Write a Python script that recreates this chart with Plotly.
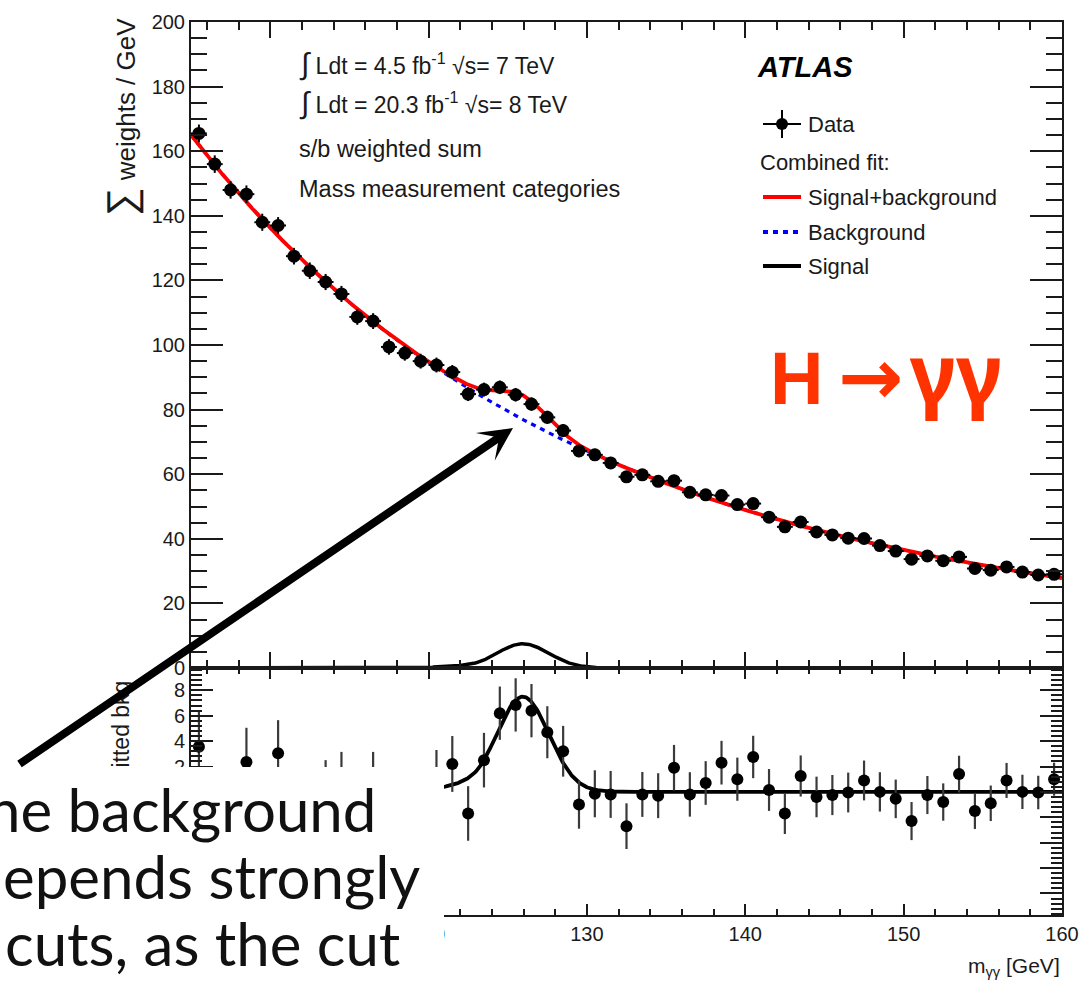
import numpy as np
import plotly.graph_objects as go

# ---- binned diphoton mass spectrum (1 GeV bins, 105-160 GeV) ----
MASS_LO, MASS_HI = 105.0, 160.0
MASS = np.arange(105.5, 160.0, 1.0)

WEIGHTS = [165.5, 156.0, 148.0, 146.7, 138.0, 137.0, 127.5, 123.0, 119.5, 115.8,
           108.7, 107.4, 99.4, 97.5, 95.0, 93.8, 91.6, 84.8, 86.2, 86.9,
           84.6, 81.7, 77.6, 73.5, 67.2, 66.0, 63.5, 59.2, 59.8, 57.8,
           58.0, 54.4, 53.6, 53.4, 50.6, 50.9, 46.7, 43.7, 45.2, 42.1,
           41.2, 40.2, 40.1, 37.9, 36.2, 33.7, 34.7, 33.2, 34.4, 30.8,
           30.3, 31.3, 29.7, 28.8, 29.0]

RESIDUALS = [3.55, -1.0, -2.4, 2.35, -1.3, 3.05, -1.1, -0.9, 0.0, 0.65,
             -1.2, 0.7, -2.2, -1.5, -0.9, 1.0, 2.2, -1.7, 2.5, 6.2,
             6.85, 6.4, 4.7, 3.2, -1.0, -0.15, -0.2, -2.7, -0.2, -0.3,
             1.9, -0.2, 0.7, 2.3, 1.0, 2.75, 0.15, -1.7, 1.25, -0.4,
             -0.25, -0.05, 0.9, 0.0, -0.55, -2.3, -0.25, -0.8, 1.4, -1.5,
             -0.9, 0.9, 0.0, -0.05, 1.0]

ERRORS = [2.75, 2.72, 2.7, 2.7, 2.65, 2.6, 2.58, 2.55, 2.5, 2.5,
          2.45, 2.45, 2.4, 2.35, 2.3, 2.3, 2.2, 2.15, 2.15, 2.1,
          2.1, 2.1, 2.05, 2.0, 1.9, 1.85, 1.85, 1.8, 1.77, 1.77,
          1.8, 1.75, 1.72, 1.72, 1.7, 1.67, 1.65, 1.62, 1.62, 1.6,
          1.58, 1.57, 1.57, 1.55, 1.52, 1.5, 1.5, 1.47, 1.45, 1.42,
          1.4, 1.38, 1.35, 1.32, 1.3]

# background fit, sampled along the fitted curve
BKG_KNOT_MASS = [105, 110, 115, 120, 125, 130, 135, 140, 145, 150, 155, 160]
BKG_KNOT_VAL = [165.0, 137.5, 112.5, 94.5, 78.0, 66.5, 58.5, 50.8, 41.5, 35.6, 31.4, 28.3]

# signal: Crystal Ball line shape
M_H, SIGMA, ALPHA, N_CB, PEAK = 125.95, 1.65, 1.5, 4.0, 7.5

Y_TICKS_TOP = list(range(0, 201, 20))
X_TICKS = [110, 120, 130, 140, 150, 160]
X_TICK_TEXT = ["", "120", "130", "140", "150", "160"]
Y_TICKS_LOW = [-8, -6, -4, -2, 0, 2, 4, 6, 8]
Y_TICK_TEXT_LOW = ["", "", "", "", "", "2", "4", "6", "8"]

FONT = "Liberation Sans"
INK = "#1a1a1a"

# smooth exp-polynomial background through the sampled fit values
_bkg_coef = np.polyfit(np.array(BKG_KNOT_MASS) - 130.0, np.log(BKG_KNOT_VAL), 3)


def background(m):
    return np.exp(np.polyval(_bkg_coef, m - 130.0))


def signal(m):
    t = (m - M_H) / SIGMA
    a = (N_CB / ALPHA) ** N_CB * np.exp(-0.5 * ALPHA ** 2)
    b = N_CB / ALPHA - ALPHA
    core = np.exp(-0.5 * t ** 2)
    tail = a / np.power(np.clip(b - t, 1e-9, None), N_CB)
    return PEAK * np.where(t > -ALPHA, core, tail)


grid = np.linspace(MASS_LO, MASS_HI, 1101)
bkg = background(grid)
sig = signal(grid)

# pixel helpers for page-level decorations
L, R, T, B = 191, 18, 22, 67
W, H = 1080, 982
PW, PH = W - L - R, H - T - B


def px(x):
    return (x - L) / PW


def py(y):
    return (H - B - y) / PH


split = py(668)

fig = go.Figure()

# ---- upper panel ----
fig.add_trace(go.Scatter(x=grid, y=bkg, mode="lines",
                         line=dict(color="#0000ff", width=3.2, dash="5px,5px"),
                         xaxis="x", yaxis="y", hoverinfo="skip"))
fig.add_trace(go.Scatter(x=grid, y=bkg + sig, mode="lines",
                         line=dict(color="#ff0000", width=3.8),
                         xaxis="x", yaxis="y", hoverinfo="skip"))
fig.add_trace(go.Scatter(x=grid, y=sig, mode="lines",
                         line=dict(color="#000000", width=3.5),
                         xaxis="x", yaxis="y", hoverinfo="skip"))
fig.add_trace(go.Scatter(x=MASS, y=WEIGHTS, mode="markers",
                         marker=dict(color="black", size=13),
                         error_y=dict(type="data", array=ERRORS, color="black",
                                      thickness=2, width=0),
                         error_x=dict(type="constant", value=0.5, color="black",
                                      thickness=2, width=0),
                         xaxis="x", yaxis="y"))

# ---- lower panel: data minus fitted background ----
fig.add_trace(go.Scatter(x=grid, y=sig, mode="lines",
                         line=dict(color="#000000", width=3.8),
                         xaxis="x2", yaxis="y2", hoverinfo="skip"))
fig.add_trace(go.Scatter(x=MASS, y=RESIDUALS, mode="markers",
                         marker=dict(color="black", size=12),
                         error_y=dict(type="data", array=ERRORS, color="#3a3a3a",
                                      thickness=2.2, width=0),
                         xaxis="x2", yaxis="y2"))

tickfont = dict(family=FONT, size=20, color=INK)
common_axis = dict(showline=True, linecolor=INK, linewidth=2, mirror="ticks",
                   ticks="inside", tickcolor=INK, showgrid=False, zeroline=False,
                   tickfont=tickfont, automargin=False)

fig.update_layout(
    width=W, height=H,
    margin=dict(l=L, r=R, t=T, b=B, pad=0, autoexpand=False),
    paper_bgcolor="white", plot_bgcolor="white",
    showlegend=False,
    xaxis=dict(common_axis, domain=[0, 1], anchor="y", range=[MASS_LO, MASS_HI],
               tickvals=X_TICKS, showticklabels=False, ticklen=16, tickwidth=2,
               minor=dict(dtick=2, tick0=100, ticklen=8, tickwidth=1.5,
                          tickcolor=INK, ticks="inside")),
    yaxis=dict(common_axis, domain=[split, 1], anchor="x", range=[0, 200],
               tickvals=Y_TICKS_TOP, ticklen=32, tickwidth=2,
               minor=dict(dtick=5, tick0=0, ticklen=16, tickwidth=1.5,
                          tickcolor=INK, ticks="inside")),
    xaxis2=dict(common_axis, domain=[0, 1], anchor="y2", range=[MASS_LO, MASS_HI],
                matches="x", tickvals=X_TICKS, ticktext=X_TICK_TEXT,
                ticklen=11, tickwidth=2,
                minor=dict(dtick=2, tick0=100, ticklen=6, tickwidth=1.5,
                           tickcolor=INK, ticks="inside")),
    yaxis2=dict(common_axis, domain=[0, split], anchor="x2", range=[-9.7, 9.76],
                tickvals=Y_TICKS_LOW, ticktext=Y_TICK_TEXT_LOW,
                ticklen=22, tickwidth=2,
                minor=dict(dtick=0.4, tick0=0, ticklen=11, tickwidth=1.5,
                           tickcolor=INK, ticks="inside")),
)

# ---- legend keys ----
shapes = []
lx0, lx1, lxc = px(763), px(801), px(782)
shapes.append(dict(type="line", xref="paper", yref="paper", x0=lx0, x1=lx1,
                   y0=py(124), y1=py(124), line=dict(color="black", width=2)))
shapes.append(dict(type="line", xref="paper", yref="paper", x0=lxc, x1=lxc,
                   y0=py(110), y1=py(138), line=dict(color="black", width=2)))
shapes.append(dict(type="circle", xref="paper", yref="paper",
                   x0=px(776), x1=px(788), y0=py(118), y1=py(130),
                   fillcolor="black", line=dict(color="black", width=0)))
for yy, col, dash in [(197, "#ff0000", "solid"), (232, "#0000ff", "5px,5px"),
                      (266, "#000000", "solid")]:
    shapes.append(dict(type="line", xref="paper", yref="paper", x0=lx0, x1=lx1,
                       y0=py(yy), y1=py(yy), line=dict(color=col, width=3.8, dash=dash)))
fig.update_layout(shapes=shapes)

ann = []


def text(x, y, s, size, xanchor="left", yanchor="middle", color=INK, family=FONT, **kw):
    ann.append(dict(x=px(x), y=py(y), xref="paper", yref="paper", text=s,
                    showarrow=False, xanchor=xanchor, yanchor=yanchor,
                    font=dict(family=family, size=size, color=color), **kw))


text(297, 64, "<span style='font-size:30px'>∫</span> Ldt = 4.5 fb<sup>-1</sup> √s= 7 TeV", 23)
text(297, 103, "<span style='font-size:30px'>∫</span> Ldt = 20.3 fb<sup>-1</sup> √s= 8 TeV", 23)
text(297, 149, "s/b weighted sum", 23.5)
text(297, 189, "Mass measurement categories", 23.5)
text(755, 67, "<b><i>ATLAS</i></b>", 29, color="black")
text(806, 124, "Data", 22)
text(758, 162, "Combined fit:", 22)
text(806, 197, "Signal+background", 22)
text(806, 232, "Background", 22)
text(806, 266, "Signal", 22)
text(768, 372,
     "<b>H\u2009<span style='font-family:DejaVu Sans;font-size:78px'>→</span>"
     "\u200a<span style='font-family:Noto Sans;font-size:82px'>γγ</span></b>",
     74, color="#ff3300")

# axis titles
text(121, 117, "<span style='font-size:40px'>∑</span> weights / GeV", 26,
     xanchor="center", textangle=-90)
text(117, 679, "<span style='font-size:34px'>∑</span> weights - fitted bkg", 23,
     xanchor="center", yanchor="top", textangle=-90)
text(1062, 967, "m<sub>γγ</sub> [GeV]", 21, xanchor="right")

# white caption panel over the lower-left corner
ann.append(dict(x=px(444), y=py(767), xref="paper", yref="paper", text=" ",
                showarrow=False, xanchor="right", yanchor="top",
                width=700, height=260, bgcolor="white", borderpad=0, borderwidth=0))
CAPTION = ["he background", "epends strongly", "cuts, as the cut"]
CAPTION_RIGHT = [378, 422, 402]
CAPTION_Y = [809, 876, 943]
for s, xr, yc in zip(CAPTION, CAPTION_RIGHT, CAPTION_Y):
    text(xr, yc, s, 60, xanchor="right", color="#111111", family="Lato")

# pointer arrow towards the signal excess
ann.append(dict(x=px(513), y=py(428), xref="paper", yref="paper", text="",
                showarrow=True, axref="pixel", ayref="pixel", ax=18 - 513, ay=765 - 428,
                arrowhead=3, arrowsize=0.7, arrowwidth=8, arrowcolor="black", standoff=0))

fig.update_layout(annotations=ann)

fig.write_html("out.html")
